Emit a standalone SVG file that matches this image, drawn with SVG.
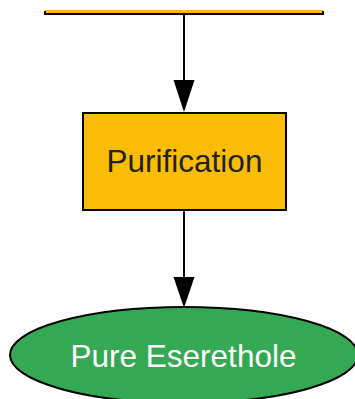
<svg xmlns="http://www.w3.org/2000/svg" width="355" height="399" viewBox="0 0 355 399">
<defs>
<style>
.box{fill:#FBBC05;stroke:#000;stroke-width:2}
.term{fill:#34A853;stroke:#000;stroke-width:2}
.lbl{font-family:"Liberation Sans",Arial,sans-serif;font-size:31.5px;text-anchor:middle}
.edge{stroke:#000;stroke-width:2;fill:none}
</style>
</defs>
<g id="node-prev">
<rect x="45" y="10" width="278" height="4" fill="#FBBC05"/>
<path d="M45,11 V14 H323 V11" fill="none" stroke="#000" stroke-width="2"/>
</g>
<g id="node-purification">
<rect class="box" x="83" y="113" width="203" height="97"/>
<text class="lbl" x="184.5" y="172" fill="#222">Purification</text>
</g>
<g id="node-pure">
<ellipse class="term" cx="184" cy="355" rx="174" ry="48"/>
<text class="lbl" x="183.5" y="367" fill="#fff">Pure Eserethole</text>
</g>
<g id="connectors">
<line class="edge" x1="184" y1="15" x2="184" y2="80"/>
<path d="M173.5,80 L194.5,80 L184,112 Z" fill="#000"/>
<line class="edge" x1="184" y1="211" x2="184" y2="277"/>
<path d="M173.5,277 L194.5,277 L184,308 Z" fill="#000"/>
</g>
</svg>
